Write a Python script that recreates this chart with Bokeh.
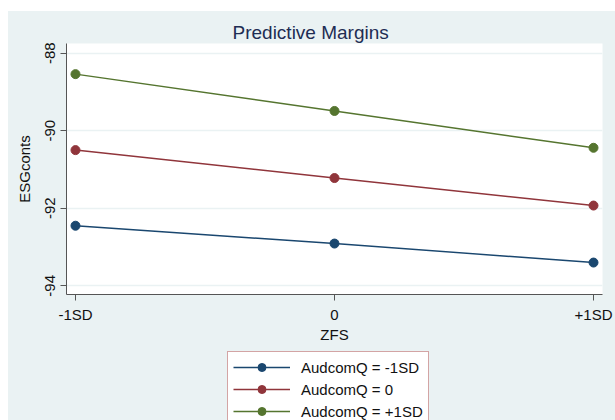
from bokeh.plotting import figure
from bokeh.models import Legend, LegendItem, FixedTicker, Spacer
from bokeh.layouts import row, column
from bokeh.embed import file_html
from bokeh.resources import INLINE

x_vals = [-1, 0, 1]
x_labels = ["-1SD", "0", "+1SD"]
series_names = ["AudcomQ = -1SD", "AudcomQ = 0", "AudcomQ = +1SD"]
low_q = [-92.45, -92.91, -93.40]
mid_q = [-90.50, -91.22, -91.93]
high_q = [-88.54, -89.49, -90.44]
colors = ["#1a476f", "#90353b", "#55752f"]
y_ticks = [-94, -92, -90, -88]

BG = "#eaf2f3"
FONT = "Liberation Sans"

p = figure(width=607, height=334, output_backend="svg", toolbar_location=None,
           x_range=(-1.0347, 1.0347), y_range=(-94.224, -87.75),
           title="Predictive Margins")
p.background_fill_color = "white"
p.border_fill_color = BG
p.outline_line_color = None
p.min_border_left = 58
p.min_border_right = 13
p.min_border_top = 32
p.min_border_bottom = 42

p.title.align = "left"
p.title.offset = 166
p.title.standoff = 2
p.title.text_font = FONT
p.title.text_font_size = "19px"
p.title.text_font_style = "normal"
p.title.text_color = "#1e2d53"

for ys, c in zip([low_q, mid_q, high_q], colors):
    p.line(x_vals, ys, line_color=c, line_width=1.5)
    p.scatter(x_vals, ys, size=9, fill_color=c, line_color=c)

p.xgrid.visible = False
p.ygrid.grid_line_color = BG
p.ygrid.grid_line_width = 1.5
p.yaxis.ticker = FixedTicker(ticks=y_ticks)
p.yaxis.major_label_overrides = {t: str(t) for t in y_ticks}
p.xaxis.ticker = FixedTicker(ticks=x_vals)
p.xaxis.major_label_overrides = {v: lab for v, lab in zip(x_vals, x_labels)}
p.yaxis.major_label_orientation = "vertical"

for ax in (p.xaxis, p.yaxis):
    ax.axis_line_color = "#555555"
    ax.major_tick_line_color = "#555555"
    ax.major_tick_out = 6
    ax.major_tick_in = 0
    ax.minor_tick_line_color = None
    ax.major_label_text_font = FONT
    ax.major_label_text_font_size = "15px"
    ax.major_label_text_color = "#111111"
    ax.axis_label_text_font = FONT
    ax.axis_label_text_font_size = "15px"
    ax.axis_label_text_font_style = "normal"
    ax.axis_label_text_color = "#111111"

p.xaxis.axis_label = "ZFS"
p.yaxis.axis_label = "ESGconts"
p.xaxis.major_label_standoff = 5
p.xaxis.axis_label_standoff = 0
p.yaxis.major_label_standoff = 5
p.yaxis.axis_label_standoff = 10

# legend panel below the chart (the series are drawn out of its view; only the legend shows)
lg = figure(width=607, height=75, output_backend="svg", toolbar_location=None,
            x_range=(0, 1), y_range=(0, 1))
lg.background_fill_color = BG
lg.border_fill_color = BG
lg.outline_line_color = None
lg.min_border = 0
lg.min_border_left = 58
lg.min_border_right = 13
lg.xaxis.visible = False
lg.yaxis.visible = False
lg.grid.visible = False

items = []
for n, ys, c in zip(series_names, [low_q, mid_q, high_q], colors):
    l = lg.line(x_vals, ys, line_color=c, line_width=1.5)
    s = lg.scatter(x_vals, ys, size=9, fill_color=c, line_color=c)
    items.append(LegendItem(label=n, renderers=[l, s]))

legend = Legend(items=items, location=(161, -7), orientation="vertical")
legend.label_text_font = FONT
legend.label_text_font_size = "15px"
legend.label_text_color = "#111111"
legend.border_line_color = "#a84a4a"
legend.border_line_width = 1
legend.background_fill_color = "white"
legend.background_fill_alpha = 1
legend.glyph_width = 57
legend.glyph_height = 20
legend.spacing = 2
legend.padding = 5
legend.margin = 0
legend.label_standoff = 11
lg.add_layout(legend, "center")

chart = column(p, lg, styles={"background-color": BG})
layout = row(Spacer(width=8), column(Spacer(height=11), chart))

open("out.html", "w").write(file_html(layout, INLINE))
